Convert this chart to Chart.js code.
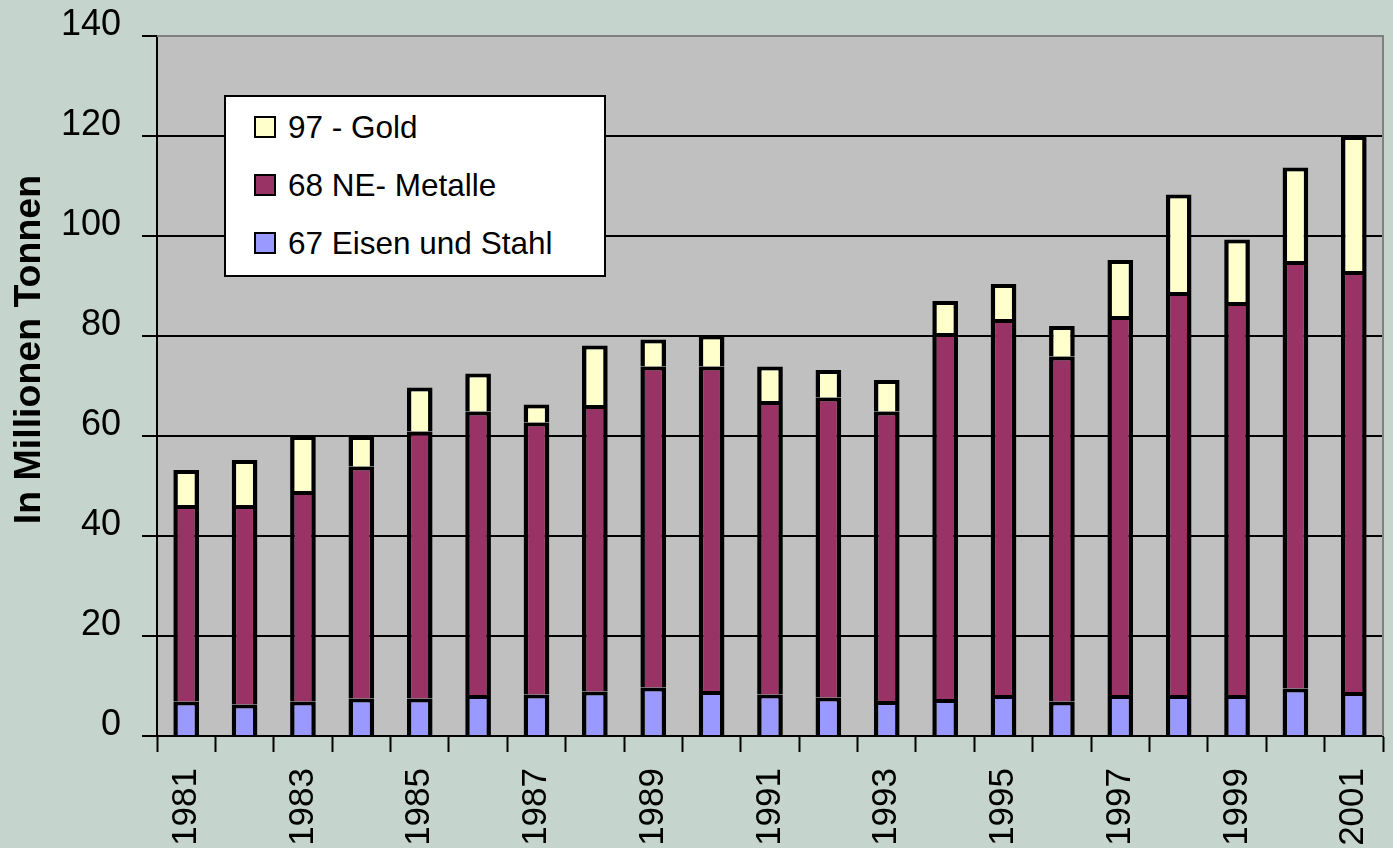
<!DOCTYPE html>
<html>
<head>
<meta charset="utf-8">
<script src="https://cdn.jsdelivr.net/npm/chart.js@4/dist/chart.umd.min.js"></script>
<style>
  html, body { margin: 0; padding: 0; background: #c5d5cd; }
  #wrap { position: relative; width: 1393px; height: 848px; }
  canvas { display: block; }
  #legend {
    position: absolute; left: 224px; top: 95px; width: 382px; height: 182px;
    box-sizing: border-box; background: #fff; border: 2px solid #000;
    font-family: "Liberation Sans", Arial, sans-serif; font-size: 31.5px; color: #000;
  }
  .item { position: absolute; left: 28px; height: 36px; display: flex; align-items: center; }
  .sw { width: 18px; height: 18px; border: 2px solid #000; margin-right: 12px; }
</style>
</head>
<body>
<div id="wrap">
  <canvas id="c" width="1393" height="848"></canvas>
  <div id="legend"></div>
</div>
<script>
const years = ['1981','1982','1983','1984','1985','1986','1987','1988','1989','1990','1991','1992','1993','1994','1995','1996','1997','1998','1999','2000','2001'];
const eisenStahl = [6.9, 6.3, 6.9, 7.5, 7.5, 8.2, 8.3, 8.9, 9.7, 9.0, 8.3, 7.7, 7.0, 7.4, 8.2, 6.9, 8.2, 8.2, 8.2, 9.5, 8.8];
const neMetalle  = [39.3, 39.9, 42.1, 46.4, 53.4, 56.7, 54.4, 57.3, 64.2, 64.9, 58.7, 60.0, 57.9, 73.2, 75.2, 69.0, 75.8, 80.6, 78.6, 85.5, 84.2];
const gold       = [7.0, 9.0, 11.0, 6.1, 8.8, 7.6, 3.6, 11.9, 5.4, 6.2, 6.9, 5.5, 6.3, 6.4, 7.0, 6.1, 11.2, 19.5, 12.5, 18.7, 27.0];
const seriesNames = ['67 Eisen und Stahl', '68 NE- Metalle', '97 - Gold'];
const yTicks = [0, 20, 40, 60, 80, 100, 120, 140];
const axisTitle = 'In Millionen Tonnen';

const colors = ['#9999ff', '#993366', '#ffffcc'];
const FONT = '"Liberation Sans", Arial, sans-serif';

const bgPlugin = {
  id: 'bg',
  beforeDraw(chart) {
    const {ctx, chartArea: a} = chart;
    ctx.save();
    ctx.fillStyle = '#c5d5cd';
    ctx.fillRect(0, 0, chart.width, chart.height);
    ctx.fillStyle = '#c0c0c0';
    ctx.fillRect(a.left, a.top, a.right - a.left, a.bottom - a.top);
    ctx.restore();
  },
  beforeDatasetsDraw(chart) {
    const {ctx, chartArea: a} = chart;
    ctx.save();
    ctx.strokeStyle = '#808080';
    ctx.lineWidth = 2;
    ctx.beginPath();
    ctx.moveTo(a.left, a.top);
    ctx.lineTo(a.right, a.top);
    ctx.lineTo(a.right, a.bottom);
    ctx.stroke();
    ctx.restore();
  }
};

const data = {
  labels: years,
  datasets: [eisenStahl, neMetalle, gold].map((d, i) => ({
    label: seriesNames[i],
    data: d,
    backgroundColor: colors[i],
    borderColor: '#000',
    borderWidth: { top: 4, right: 4.5, bottom: 0, left: 4.5 },
    borderSkipped: false,
    inflateAmount: 0,
    barPercentage: 0.44,
    categoryPercentage: 1.0
  }))
};

new Chart(document.getElementById('c'), {
  type: 'bar',
  data,
  plugins: [bgPlugin],
  options: {
    responsive: false,
    animation: false,
    layout: { padding: { top: 36, right: 10, left: 0, bottom: 0 } },
    plugins: { legend: { display: false }, tooltip: { enabled: false } },
    scales: {
      x: {
        stacked: true,
        afterFit(s) { s.height = 112; s.paddingLeft = 0; s.paddingRight = 0; },
        grid: { drawOnChartArea: false, drawTicks: true, tickLength: 16, tickColor: '#000', tickWidth: 2, offset: true },
        border: { color: '#000', width: 2 },
        ticks: {
          autoSkip: false, minRotation: 90, maxRotation: 90, padding: 16,
          color: '#000', font: { family: FONT, size: 35 },
          callback(v, i) { return i % 2 === 0 ? years[i] : ''; }
        }
      },
      y: {
        stacked: true,
        min: 0, max: 140,
        afterFit(s) { s.width = 157; s.paddingTop = 0; s.paddingBottom = 0; },
        afterBuildTicks(s) { s.ticks = yTicks.map(v => ({ value: v })); },
        grid: {
          color: (c) => (c.tick && c.tick.value === 140) ? 'rgba(0,0,0,0)' : '#000',
          lineWidth: 2, tickLength: 15, tickColor: '#000', tickWidth: 2
        },
        border: { color: '#000', width: 2 },
        ticks: {
          padding: 21, color: '#000',
          font: { family: FONT, size: 36, lineHeight: 0.6 },
          callback(v) { return [String(v), '']; }
        },
        title: {
          display: true,
          text: '       ' + axisTitle,
          color: '#000',
          font: { family: FONT, size: 37.5, weight: 'bold', lineHeight: 1.2 },
          padding: { top: 7, bottom: 0 }
        }
      }
    }
  }
});

// legend (reverse order, top = last series)
const leg = document.getElementById('legend');
const rowTops = [12, 70, 128];
[2, 1, 0].forEach((si, r) => {
  const it = document.createElement('div');
  it.className = 'item';
  it.style.top = rowTops[r] + 'px';
  const sw = document.createElement('div');
  sw.className = 'sw';
  sw.style.background = colors[si];
  const tx = document.createElement('span');
  tx.textContent = seriesNames[si];
  it.appendChild(sw); it.appendChild(tx);
  leg.appendChild(it);
});
</script>
</body>
</html>
